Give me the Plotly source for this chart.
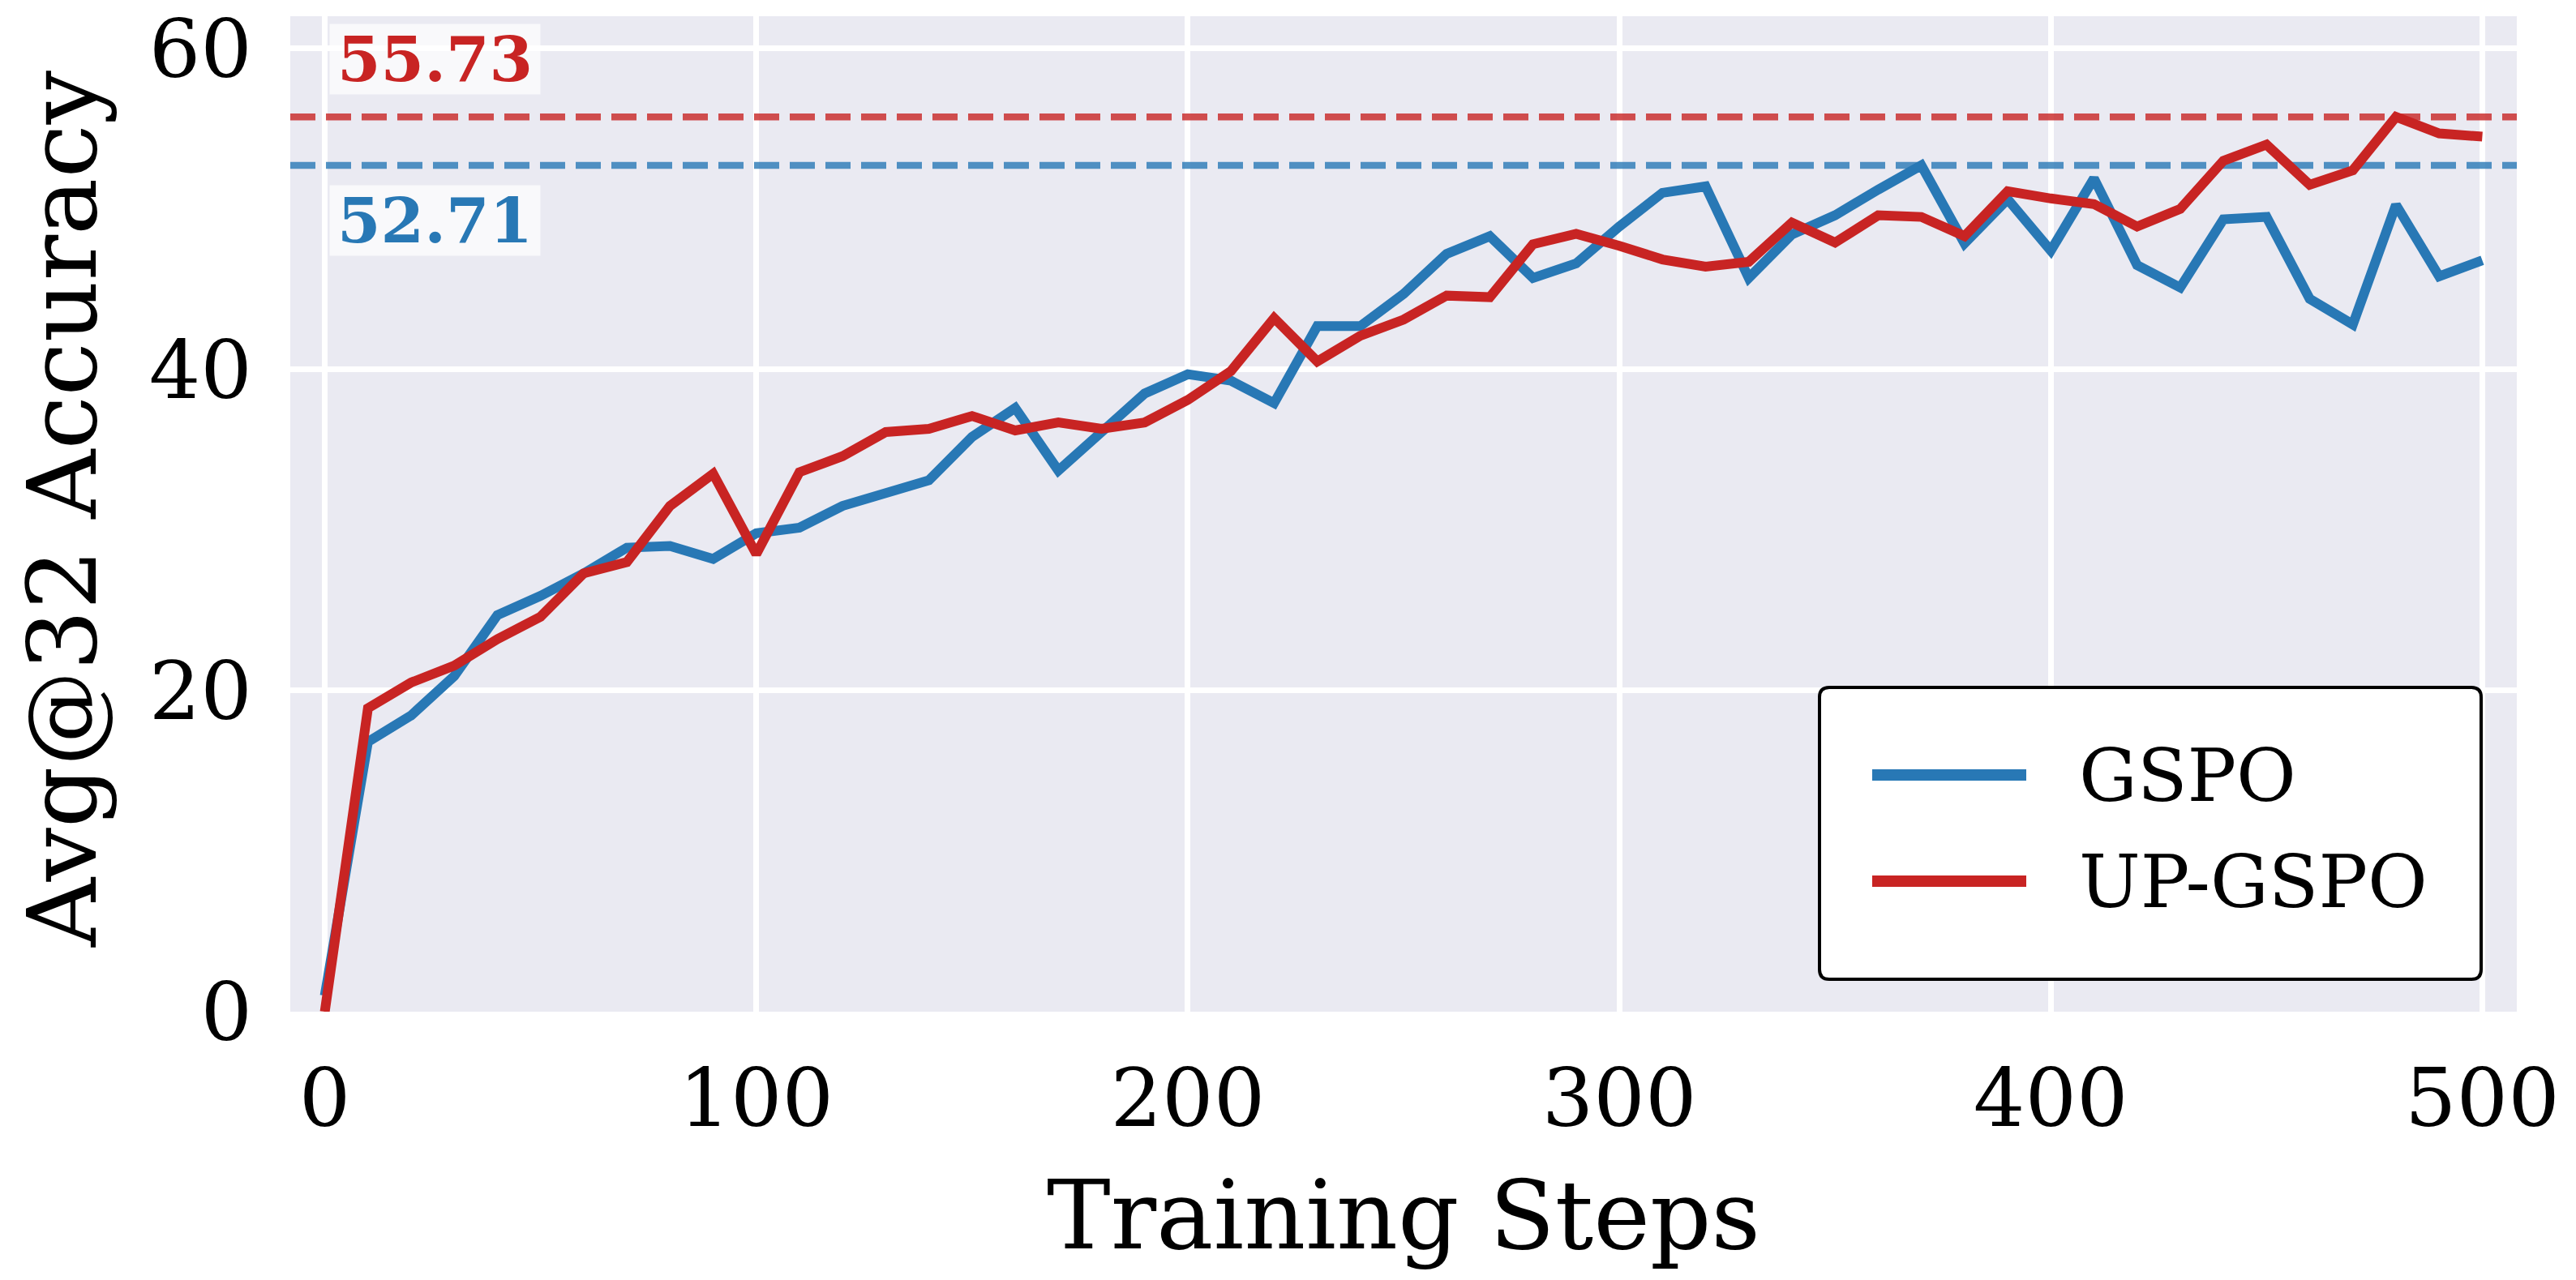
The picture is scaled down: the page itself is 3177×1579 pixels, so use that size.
import plotly.graph_objects as go

steps = list(range(0, 510, 10))
gspo = [1.0, 16.8, 18.45, 20.9, 24.7, 25.9, 27.3, 28.9, 29.0, 28.2,
        29.8, 30.15, 31.5, 32.3, 33.1, 35.8, 37.6, 33.7, 36.1, 38.5,
        39.7, 39.3, 37.9, 42.7, 42.7, 44.7, 47.2, 48.3, 45.7, 46.6,
        48.9, 51.0, 51.4, 45.7, 48.4, 49.6, 51.2, 52.71, 47.85, 50.6,
        47.4, 51.9, 46.5, 45.1, 49.35, 49.5, 44.4, 42.8, 50.25, 45.8,
        46.8]
up_gspo = [0.0, 18.9, 20.5, 21.55, 23.2, 24.6, 27.3, 28.0, 31.5, 33.5,
           28.5, 33.6, 34.6, 36.1, 36.3, 37.1, 36.2, 36.7, 36.3, 36.7,
           38.1, 39.9, 43.2, 40.5, 42.1, 43.1, 44.6, 44.5, 47.8, 48.45,
           47.7, 46.85, 46.4, 46.7, 49.15, 47.9, 49.6, 49.5, 48.3, 51.1,
           50.65, 50.3, 48.9, 50.0, 53.0, 54.0, 51.5, 52.4, 55.73, 54.7,
           54.5]
series_names = ["GSPO", "UP-GSPO"]
best_gspo = 52.71
best_up = 55.73
x_ticks = [0, 100, 200, 300, 400, 500]
y_ticks = [0, 20, 40, 60]
x_range = [-8, 508]
y_range = [0, 62]

BLUE = "#2878B5"
RED = "#C82423"
BLUE_D = "rgba(40,120,181,0.8)"
RED_D = "rgba(200,36,35,0.8)"
FONT = "DejaVu Serif"

W, H = 3177, 1579
ML, MR, MT, MB = 358, 73, 20, 331
PW, PH = W - ML - MR, H - MT - MB


def px(xpix):
    return (xpix - ML) / PW


def py(ypix):
    return (H - MB - ypix) / PH


fig = go.Figure()
# reference (best) dashed lines
fig.add_trace(go.Scatter(x=x_range, y=[best_up, best_up], mode="lines",
                         line=dict(color=RED_D, width=8.5, dash="31px,13px"),
                         showlegend=False, hoverinfo="skip"))
fig.add_trace(go.Scatter(x=x_range, y=[best_gspo, best_gspo], mode="lines",
                         line=dict(color=BLUE_D, width=8.5, dash="31px,13px"),
                         showlegend=False, hoverinfo="skip"))
fig.add_trace(go.Scatter(x=steps, y=gspo, mode="lines", name=series_names[0],
                         line=dict(color=BLUE, width=12), showlegend=False))
fig.add_trace(go.Scatter(x=steps, y=up_gspo, mode="lines", name=series_names[1],
                         line=dict(color=RED, width=12), showlegend=False))

annotations = []
# value labels
annotations.append(dict(x=1, y=best_up + 3.6, xref="x", yref="y",
                        text="<b>%.2f</b>" % best_up, showarrow=False,
                        xanchor="left", yanchor="middle",
                        font=dict(family=FONT, size=77, color=RED),
                        bgcolor="rgba(255,255,255,0.7)", borderpad=9,
                        height=68))
annotations.append(dict(x=1, y=best_gspo - 3.45, xref="x", yref="y",
                        text="<b>%.2f</b>" % best_gspo, showarrow=False,
                        xanchor="left", yanchor="middle",
                        font=dict(family=FONT, size=77, color=BLUE),
                        bgcolor="rgba(255,255,255,0.7)", borderpad=9,
                        height=68))
# axis titles
annotations.append(dict(x=px(77), y=py(628), xref="paper", yref="paper",
                        text="Avg@32 Accuracy", textangle=-90, showarrow=False,
                        xanchor="center", yanchor="middle",
                        font=dict(family=FONT, size=118, color="black")))
annotations.append(dict(x=0.5, y=py(1499), xref="paper", yref="paper",
                        text="Training Steps", showarrow=False,
                        xanchor="center", yanchor="middle",
                        font=dict(family=FONT, size=118, color="black")))

# custom legend
lx0, lx1, ly0, ly1 = px(2244), px(3060), py(1208), py(848)
rx, ry = 12 / PW, 12 / PH
path = (f"M{lx0+rx},{ly0} L{lx1-rx},{ly0} Q{lx1},{ly0} {lx1},{ly0+ry} "
        f"L{lx1},{ly1-ry} Q{lx1},{ly1} {lx1-rx},{ly1} L{lx0+rx},{ly1} "
        f"Q{lx0},{ly1} {lx0},{ly1-ry} L{lx0},{ly0+ry} Q{lx0},{ly0} {lx0+rx},{ly0} Z")
shapes = [dict(type="path", path=path, xref="paper", yref="paper",
               fillcolor="white", line=dict(color="black", width=4), layer="above")]
legend_rows = [(series_names[0], BLUE, 956), (series_names[1], RED, 1087)]
for name, col, ypix in legend_rows:
    shapes.append(dict(type="line", xref="paper", yref="paper",
                       x0=px(2309), x1=px(2499), y0=py(ypix), y1=py(ypix),
                       line=dict(color=col, width=14), layer="above"))
    annotations.append(dict(x=px(2562), y=py(ypix), xref="paper", yref="paper",
                            text=name, showarrow=False, xanchor="left",
                            yanchor="middle",
                            font=dict(family=FONT, size=90, color="black")))

fig.update_layout(
    width=W, height=H,
    margin=dict(l=ML, r=MR, t=MT, b=MB, pad=0, autoexpand=False),
    paper_bgcolor="white", plot_bgcolor="#EAEAF2",
    font=dict(family=FONT, color="black"),
    showlegend=False,
    annotations=annotations, shapes=shapes,
)
fig.update_xaxes(range=x_range, tickvals=x_ticks, showgrid=True,
                 gridcolor="white", gridwidth=7, zeroline=False,
                 showline=False, ticks="", ticklabelstandoff=40,
                 automargin=False,
                 tickfont=dict(family=FONT, size=100, color="black"))
fig.update_yaxes(range=y_range, tickvals=y_ticks, showgrid=True,
                 gridcolor="white", gridwidth=7, zeroline=False,
                 showline=False, ticks="", ticklabelstandoff=46,
                 automargin=False,
                 tickfont=dict(family=FONT, size=100, color="black"))

fig.write_html("out.html")
